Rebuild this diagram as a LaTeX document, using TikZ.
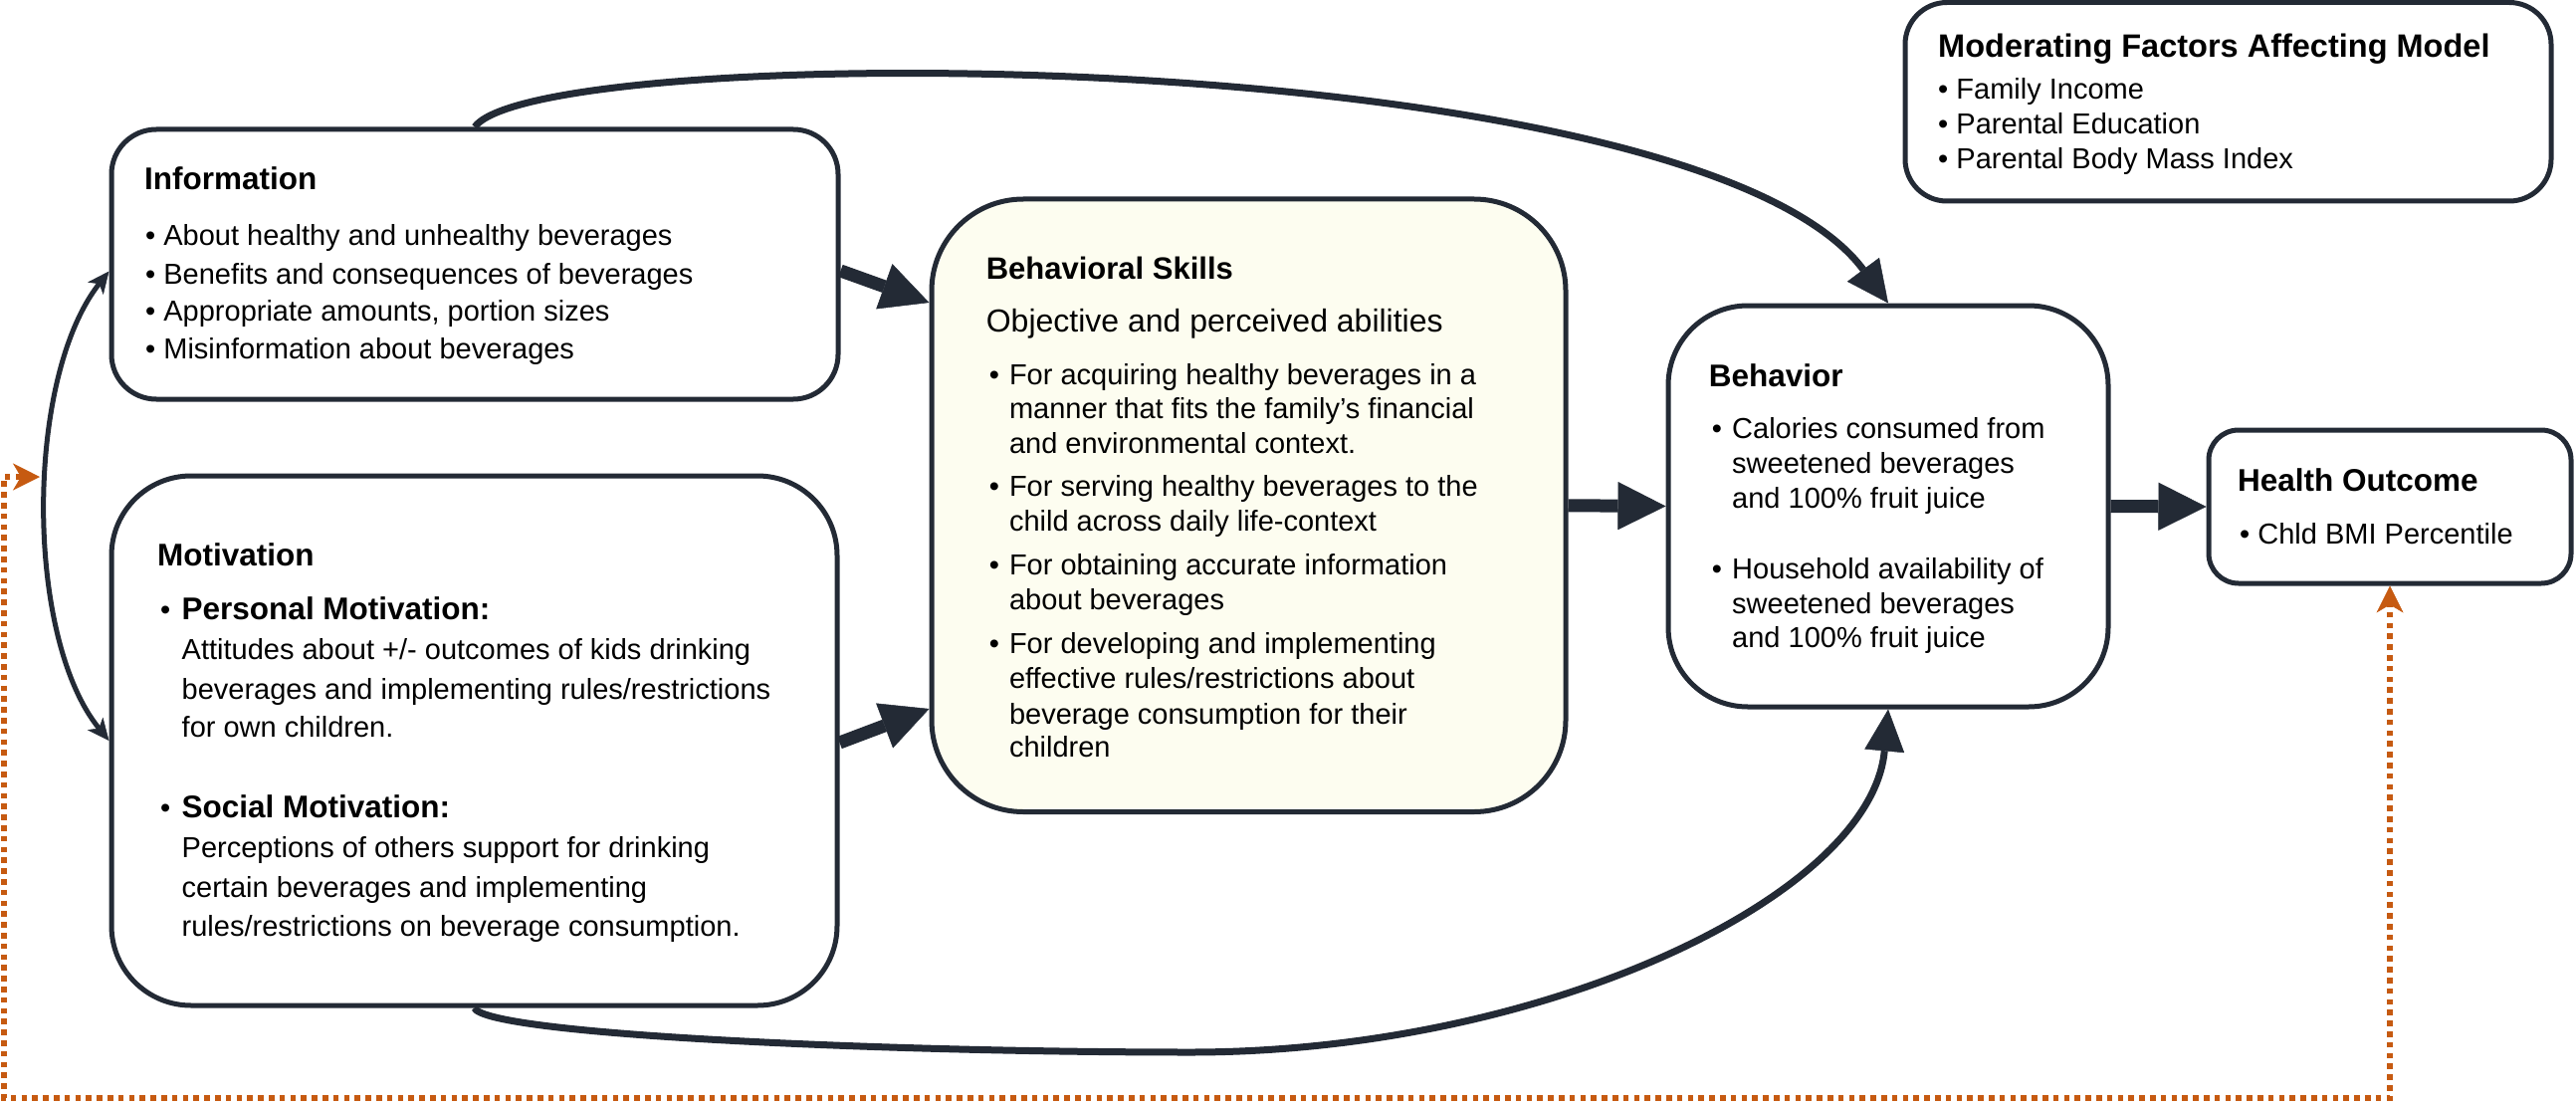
\documentclass[tikz,border=0pt]{standalone}
\usepackage{fontspec}
\setmainfont{Liberation Sans}
\usetikzlibrary{arrows.meta}
\definecolor{dk}{HTML}{232A35}
\definecolor{orng}{HTML}{C65A11}
\definecolor{cream}{HTML}{FDFDF0}
\begin{document}
\begin{tikzpicture}[x=1pt,y=-1pt,
  box/.style={draw=dk, line width=5pt, rounded corners=#1, inner sep=0pt, fill=white},
  hd/.style={anchor=base west, inner sep=0pt, font=\fontsize{31.5}{36}\selectfont\bfseries},
  tx/.style={anchor=base west, inner sep=0pt, font=\fontsize{29}{34}\selectfont},
  fat/.style={draw=dk, line width=13pt, -{Triangle[length=48pt,width=48pt,line width=0.5pt]}},
  curve/.style={draw=dk, line width=7pt, -{Triangle[length=42pt,width=40pt,line width=0.5pt]}},
  dbl/.style={draw=dk, line width=5pt, {Stealth[length=22pt,width=20pt,inset=6pt,line width=0.5pt]}-{Stealth[length=22pt,width=20pt,inset=6pt,line width=0.5pt]}},
  dotor/.style={draw=orng, line width=5.5pt, dash pattern=on 5.5pt off 5.3pt, {Stealth[length=27pt,width=27pt,inset=8pt,line width=0.5pt]}-{Stealth[length=27pt,width=27pt,inset=8pt,line width=0.5pt]}}
]
\useasboundingbox (0,0) rectangle (2588,1110);

% boxes
\node[box=45pt, minimum width=730pt, minimum height=271pt] (info) at (477,265.5) {};
\node[box=80pt, minimum width=729pt, minimum height=532pt] (mot) at (476.5,744) {};
\node[box=92pt, fill=cream, minimum width=637pt, minimum height=615.5pt] (bs) at (1254.5,507.75) {};
\node[box=80pt, minimum width=442pt, minimum height=403pt] (beh) at (1897,508.5) {};
\node[box=30pt, minimum width=364pt, minimum height=154pt] (ho) at (2401,509) {};
\node[box=42pt, minimum width=649pt, minimum height=199.5pt] (mod) at (2238.5,102.25) {};

% Information
\node[hd] (infoh) at (145,191) {Information};
\node[tx] (i1) at (146,246.7) {• About healthy and unhealthy beverages};
\node[tx] (i2) at (146,285) {• Benefits and consequences of beverages};
\node[tx] (i3) at (146,322.7) {• Appropriate amounts, portion sizes};
\node[tx] (i4) at (146,360) {• Misinformation about beverages};

% Motivation
\node[hd] (moth) at (158,568) {Motivation};
\node[tx] (mb1) at (161,622) {•};
\node[hd] (mp) at (182.5,622) {Personal Motivation:};
\node[tx] (m1) at (182.5,662) {Attitudes about +/- outcomes of kids drinking};
\node[tx] (m2) at (182.5,702) {beverages and implementing rules/restrictions};
\node[tx] (m3) at (182.5,740.4) {for own children.};
\node[tx] (mb2) at (161,821) {•};
\node[hd] (ms) at (182.5,821) {Social Motivation:};
\node[tx] (m4) at (182.5,861) {Perceptions of others support for drinking};
\node[tx] (m5) at (182.5,901) {certain beverages and implementing};
\node[tx] (m6) at (182.5,940.6) {rules/restrictions on beverage consumption.};

% Behavioral Skills
\node[hd, font=\fontsize{31}{36}\selectfont\bfseries] (bsh) at (990.6,280) {Behavioral Skills};
\node[tx, font=\fontsize{32}{36}\selectfont] (bso) at (990.6,333.6) {Objective and perceived abilities};
\node[tx] (bb1) at (993.75,386) {•};
\node[tx] (b1) at (1013.8,386) {For acquiring healthy beverages in a};
\node[tx] (b2) at (1013.8,420.7) {manner that fits the family’s financial};
\node[tx] (b3) at (1013.8,455.7) {and environmental context.};
\node[tx] (bb2) at (993.75,498.6) {•};
\node[tx] (b4) at (1013.8,498.6) {For serving healthy beverages to the};
\node[tx] (b5) at (1013.8,533.5) {child across daily life-context};
\node[tx] (bb3) at (993.75,577.7) {•};
\node[tx] (b6) at (1013.8,577.7) {For obtaining accurate information};
\node[tx] (b7) at (1013.8,612) {about beverages};
\node[tx] (bb4) at (993.75,656.8) {•};
\node[tx] (b8) at (1013.8,656.8) {For developing and implementing};
\node[tx] (b9) at (1013.8,691.4) {effective rules/restrictions about};
\node[tx] (b10) at (1013.8,727) {beverage consumption for their};
\node[tx] (b11) at (1013.8,760.8) {children};

% Behavior
\node[hd] (behh) at (1716.6,388) {Behavior};
\node[tx] (eb1) at (1719.7,440) {•};
\node[tx] (e1) at (1740,440) {Calories consumed from};
\node[tx] (e2) at (1740,475) {sweetened beverages};
\node[tx] (e3) at (1740,510) {and 100\% fruit juice};
\node[tx] (eb2) at (1719.7,581.7) {•};
\node[tx] (e4) at (1740,581.7) {Household availability of};
\node[tx] (e5) at (1740,616.7) {sweetened beverages};
\node[tx] (e6) at (1740,650) {and 100\% fruit juice};

% Health Outcome
\node[hd] (hoh) at (2247.8,493.3) {Health Outcome};
\node[tx] (h1) at (2250,546) {• Chld BMI Percentile};

% Moderating factors
\node[hd, font=\fontsize{32.5}{36}\selectfont\bfseries] (modh) at (1947,57.5) {Moderating Factors Affecting Model};
\node[tx] (d1) at (1947,100) {• Family Income};
\node[tx] (d2) at (1947,135) {• Parental Education};
\node[tx] (d3) at (1947,170) {• Parental Body Mass Index};

% thick arrows
\draw[fat] ([yshift=-6.5pt]info.east) -- ([yshift=203.75pt]bs.west);
\draw[fat] ([yshift=-2pt]mot.east) -- ([yshift=-204.25pt]bs.west);
\draw[fat] (bs.east) -- (beh.west);
\draw[fat] (beh.east) -- (ho.west);

% curved arrows
\draw[curve] (info.north) .. controls (540,40) and (1700,40) .. (beh.north);
\draw[curve] (mot.south) .. controls (490,1040) and (900,1057) .. (1196,1057)
   .. controls (1550,1057) and (1880,900) .. (beh.south);

% double arrow on the left
\draw[dbl] ([yshift=-7pt]info.west) .. controls (25,380) and (25,640) .. (mot.west);

% orange dotted feedback
\coordinate (fb) at (40,479);
\draw[dotor] (fb) -- (4,479) -- (4,1103) -| (ho.south);
\end{tikzpicture}
\end{document}
